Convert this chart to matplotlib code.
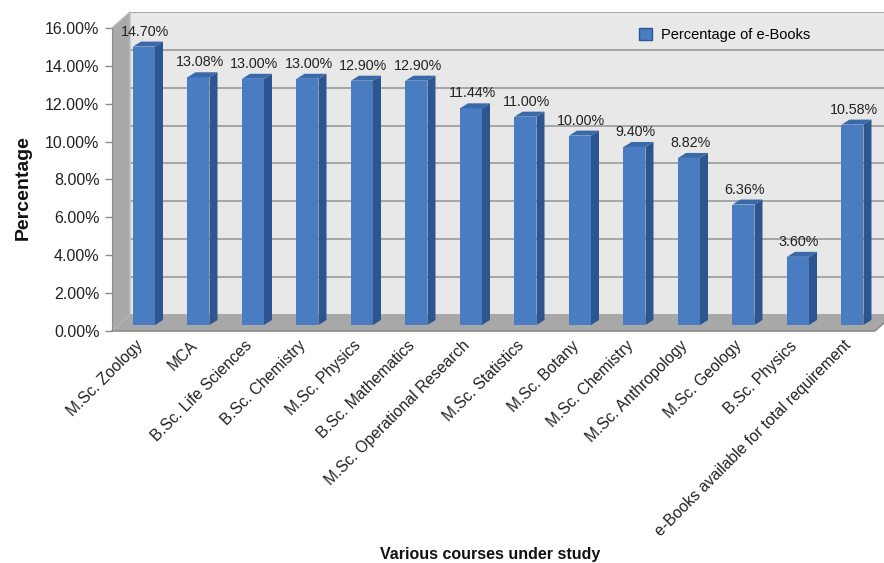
import matplotlib
matplotlib.use("Agg")
import matplotlib.pyplot as plt
from matplotlib.patches import Polygon, Rectangle, Patch
from matplotlib.transforms import ScaledTranslation

plt.rcParams['font.family'] = ['Liberation Sans', 'DejaVu Sans']

courses = [
    "M.Sc. Zoology", "MCA", "B.Sc. Life Sciences", "B.Sc. Chemistry",
    "M.Sc. Physics", "B.Sc. Mathematics", "M.Sc. Operational Research",
    "M.Sc. Statistics", "M.Sc. Botany", "M.Sc. Chemistry",
    "M.Sc. Anthropology", "M.Sc. Geology", "B.Sc. Physics",
    "e-Books available for total requirement",
]
ebook_pct = [14.70, 13.08, 13.00, 13.00, 12.90, 12.90, 11.44,
             11.00, 10.00, 9.40, 8.82, 6.36, 3.60, 10.58]
y_ticks = [0, 2, 4, 6, 8, 10, 12, 14, 16]
series_name = "Percentage of e-Books"

# pseudo-3D geometry (data units)
PX_X = 54.5    # pixels per category
PX_Y = 18.94   # pixels per percent
X0, X1 = -0.587, 13.578
WALL_DX, WALL_DY = 18 / PX_X, 16 / PX_Y
BAR_HALF = 11 / PX_X
BAR_DX, BAR_DY = 8 / PX_X, 5 / PX_Y
BAR_BASE = 6 / PX_Y
FLOOR_RIGHT = 13.41

FRONT = '#4a7cc2'
SIDE = '#2d5690'
TOP = '#3a69aa'

fig = plt.figure(figsize=(8.84, 5.63), dpi=100)
ax = fig.add_axes([112 / 884, (563 - 331) / 563, 772 / 884, 319 / 563])
ax.set_xlim(X0, X1)
ax.set_ylim(0, 319 / PX_Y)
ax.patch.set_visible(False)

ymax = y_ticks[-1]
xl = X0 + WALL_DX
# back wall
ax.add_patch(Polygon([(xl, WALL_DY), (X1 + 1, WALL_DY), (X1 + 1, ymax + WALL_DY),
                      (xl, ymax + WALL_DY)], closed=True, facecolor='#e8e8e8',
                     edgecolor='none', zorder=1, clip_on=False))
for t in y_ticks:
    ax.plot([xl, X1 + 1], [t + WALL_DY, t + WALL_DY], color='#a0a0a0', lw=1.3,
            zorder=1.5, clip_on=True, solid_capstyle='butt')
# left wall
ax.add_patch(Polygon([(X0, 0), (X0, ymax), (xl, ymax + WALL_DY), (xl, WALL_DY)],
                     closed=True, facecolor='#a9a9a9', edgecolor='none', zorder=1,
                     clip_on=False))
ax.plot([X0, xl, xl], [ymax, ymax + WALL_DY, WALL_DY], color='#bdbdbd', lw=1,
        zorder=1.6, clip_on=False)
# floor
ax.add_patch(Polygon([(X0, 0), (FLOOR_RIGHT, 0), (FLOOR_RIGHT + WALL_DX, WALL_DY),
                      (xl, WALL_DY)], closed=True, facecolor='#a8a8a8',
                     edgecolor='none', zorder=2, clip_on=False))
ax.plot([X0, FLOOR_RIGHT, FLOOR_RIGHT + WALL_DX], [0, 0, WALL_DY], color='#8c8c8c',
        lw=1.2, zorder=2.1, clip_on=False)

# bars
for i, v in enumerate(ebook_pct):
    l, r = i - BAR_HALF, i + BAR_HALF
    b, t = BAR_BASE, BAR_BASE + v
    ax.add_patch(Rectangle((l, b), r - l, v, facecolor=FRONT, edgecolor='none', zorder=3))
    ax.add_patch(Polygon([(r, b), (r, t), (r + BAR_DX, t + BAR_DY), (r + BAR_DX, b + BAR_DY)],
                         closed=True, facecolor=SIDE, edgecolor='none', zorder=3))
    ax.add_patch(Polygon([(l, t), (r, t), (r + BAR_DX, t + BAR_DY), (l + BAR_DX, t + BAR_DY)],
                         closed=True, facecolor=TOP, edgecolor='none', zorder=3))
    ax.text(i + 0.02, t + 0.42, f"{v:.2f}%", ha='center', va='bottom', fontsize=10.3,
            color='#222222', zorder=4)

# axes
for s in ['top', 'right', 'bottom']:
    ax.spines[s].set_visible(False)
ax.spines['left'].set_bounds(0, ymax)
ax.spines['left'].set_color('#8c8c8c')
ax.spines['left'].set_position(('data', X0))
ax.set_yticks(y_ticks)
ax.set_yticklabels([f"{t:.2f}%" for t in y_ticks])
ax.tick_params(axis='y', length=5, width=1, color='#8c8c8c', labelsize=11.5,
               labelcolor='#222222', pad=4)
ax.set_xticks(range(len(courses)))
ax.set_xticklabels(courses, rotation=45, ha='right', va='top', rotation_mode='anchor',
                   fontsize=11.3, color='#222222')
ax.tick_params(axis='x', length=0, pad=5)
shift = ScaledTranslation(-9 / 100, 0, fig.dpi_scale_trans)
for lab in ax.get_xticklabels():
    lab.set_transform(lab.get_transform() + shift)

fig.text(23 / 884, 1 - 188 / 563, "Percentage", rotation=90, ha='center', va='center',
         fontsize=14, fontweight='bold', color='#111111')
fig.text(490 / 884, 1 - 555 / 563, "Various courses under study", ha='center',
         va='center', fontsize=11.5, fontweight='bold', color='#111111')

leg = ax.legend(handles=[Patch(facecolor=FRONT, edgecolor='#2d5690', label=series_name)],
                loc='center left', bbox_to_anchor=(626 / 884, 1 - 35 / 563),
                bbox_transform=fig.transFigure, frameon=False, fontsize=10.5,
                handlelength=0.9, handleheight=0.9, handletextpad=0.6)

fig.savefig("out.png", dpi=100)
